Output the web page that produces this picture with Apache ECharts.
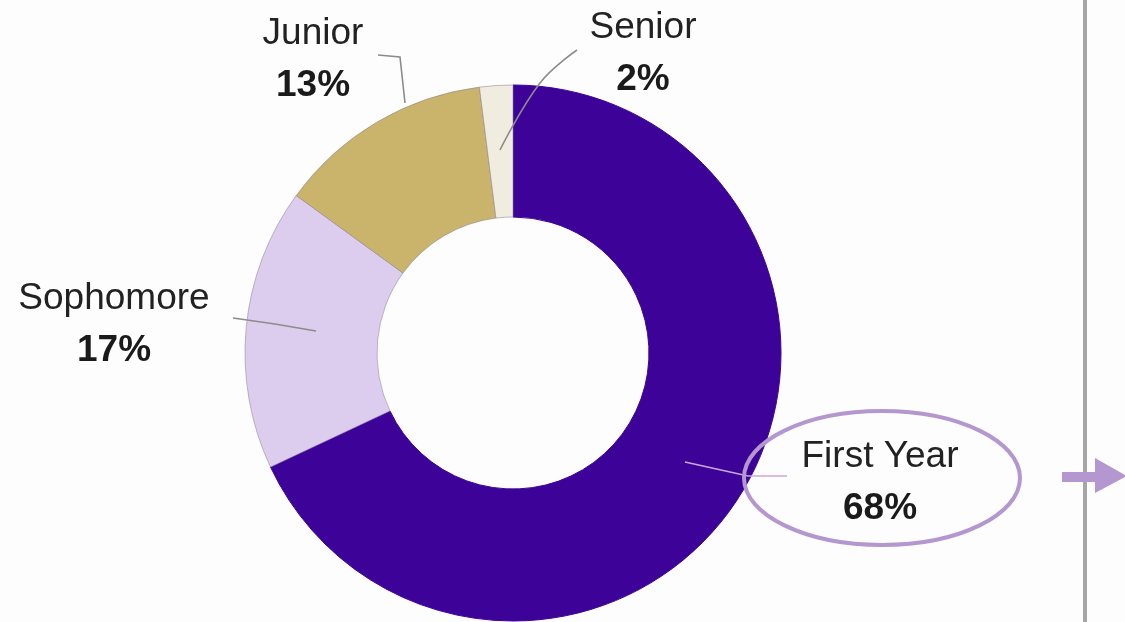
<!DOCTYPE html>
<html>
<head>
<meta charset="utf-8">
<script src="https://cdn.jsdelivr.net/npm/echarts@6/dist/echarts.min.js"></script>
<style>
html,body{margin:0;padding:0;background:#fdfdfd;}
#chart{width:1125px;height:622px;}
</style>
</head>
<body>
<div id="chart"></div>
<script>
const categories = ['First Year', 'Sophomore', 'Junior', 'Senior'];
const values = [68, 17, 13, 2];
const colors = ['#3d0399', '#dccdee', '#cab46c', '#f1ece0'];

// label placement (styling only)
const labelPos = [
  { x: 880, y: 483, line: [[685, 462], [748, 476], [787, 476]], lineColor: '#c9a8d8', smooth: 0 },
  { x: 114, y: 325, line: [[316, 331], [275, 324], [233, 318]], lineColor: '#8c8c8c', smooth: 0 },
  { x: 313, y: 60, line: [[405, 103], [400, 57], [378, 55]], lineColor: '#8c8c8c', smooth: 0 },
  { x: 643, y: 54, line: [[500, 150], [540, 83], [577, 50]], lineColor: '#8c8c8c', smooth: 0.4 }
];

const chart = echarts.init(document.getElementById('chart'), null, { renderer: 'canvas' });
const fontFam = 'Liberation Sans, Arial, sans-serif';

const guideLines = labelPos.map(p => ({
  type: 'polyline',
  shape: { points: p.line, smooth: p.smooth },
  style: { fill: 'none', stroke: p.lineColor, lineWidth: 1.6 },
  z: 90
}));

chart.setOption({
  backgroundColor: '#fdfdfd',
  animation: false,
  series: [{
    type: 'pie',
    center: [513, 353],
    radius: [136, 268],
    startAngle: 90,
    clockwise: true,
    avoidLabelOverlap: false,
    itemStyle: { borderColor: 'rgba(140,130,150,0.55)', borderWidth: 1 },
    label: {
      show: true,
      formatter: '{n|{b}}\n{p|{d}%}',
      rich: {
        n: { fontFamily: fontFam, fontSize: 37, color: '#222', lineHeight: 52, align: 'center' },
        p: { fontFamily: fontFam, fontSize: 37, fontWeight: 'bold', color: '#1a1a1a', lineHeight: 52, align: 'center' }
      }
    },
    labelLine: { show: false },
    labelLayout: function (params) {
      const p = labelPos[params.dataIndex];
      return { x: p.x, y: p.y, align: 'center', verticalAlign: 'middle' };
    },
    data: categories.map((c, i) => ({
      name: c,
      value: values[i],
      itemStyle: { color: colors[i], borderColor: i === 0 ? colors[0] : 'rgba(140,130,150,0.55)' }
    }))
  }],
  graphic: guideLines.concat([
    {
      type: 'ellipse',
      shape: { cx: 882, cy: 478, rx: 138, ry: 67 },
      style: { fill: 'none', stroke: '#b497cf', lineWidth: 4 },
      z: 100
    },
    {
      type: 'line',
      shape: { x1: 1085, y1: 0, x2: 1085, y2: 622 },
      style: { stroke: '#a6a6a6', lineWidth: 4 },
      z: 100
    },
    {
      type: 'polygon',
      shape: { points: [[1062, 472], [1095, 472], [1095, 458], [1127, 476], [1095, 493], [1095, 482], [1062, 482]] },
      style: { fill: '#b497cf' },
      z: 101
    }
  ])
});
</script>
</body>
</html>
